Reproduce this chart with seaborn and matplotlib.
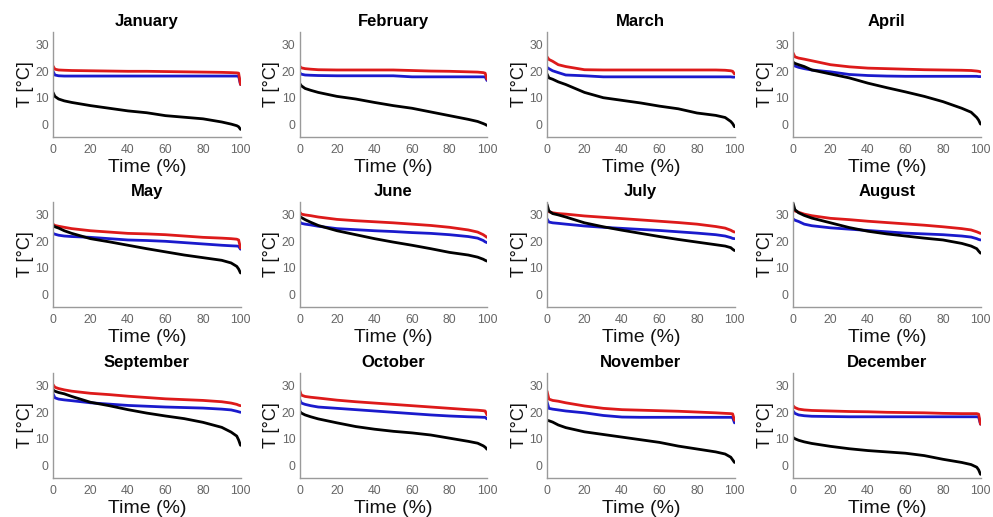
import matplotlib
matplotlib.use("Agg")
import matplotlib.pyplot as plt
import seaborn as sns
import pandas as pd

months = ["January", "February", "March", "April", "May", "June",
          "July", "August", "September", "October", "November", "December"]

time_pct = [0, 1, 3, 6, 10, 20, 30, 40, 50, 60, 70, 80, 90, 95, 98, 99, 100]

outdoor = [
    [12, 10.5, 9.5, 8.8, 8.2, 7, 6, 5, 4.3, 3.2, 2.6, 2, 0.8, 0, -0.6, -1, -2],
    [15.5, 14.5, 13.5, 12.8, 12, 10.5, 9.5, 8.2, 7, 6, 4.6, 3.2, 1.8, 1, 0.2, -0.1, -0.5],
    [19, 17.5, 17, 16, 15, 12, 10, 9, 8, 6.8, 5.8, 4.2, 3.3, 2.5, 1, 0.2, -1],
    [23.5, 23, 22.5, 21.8, 20.5, 19, 17.5, 15.5, 13.8, 12.2, 10.5, 8.5, 6, 4.5, 2.5, 1.5, 0],
    [26, 25.5, 25, 24, 23, 21, 19.8, 18.5, 17.2, 16, 14.8, 13.8, 12.8, 11.8, 10.5, 9.5, 8],
    [29.5, 29, 28.2, 27.2, 26, 24, 22.5, 21, 19.7, 18.5, 17.2, 15.8, 14.8, 14, 13.2, 12.8, 12.5],
    [34, 31.5, 30.5, 30, 29.2, 27, 25.5, 24.2, 23, 21.8, 20.7, 19.7, 18.7, 18.2, 17.6, 17, 16.5],
    [34.5, 32, 30.8, 29.8, 28.8, 27, 25.2, 23.8, 22.8, 22, 21.2, 20.5, 19.2, 18.2, 17.2, 16.3, 15.5],
    [28.5, 28, 27.5, 27, 26, 23.8, 22.5, 21, 19.7, 18.6, 17.6, 16.2, 14.3, 12.5, 11, 9.5, 7.5],
    [20.5, 19.7, 19, 18.3, 17.5, 16, 14.6, 13.6, 12.8, 12.2, 11.4, 10.2, 9, 8.3, 7.3, 6.8, 6],
    [17, 16.8, 16.3, 15.2, 14.2, 12.6, 11.6, 10.6, 9.6, 8.6, 7.2, 6.1, 5, 4.2, 3, 2, 1],
    [10.5, 10, 9.4, 8.8, 8.2, 7.1, 6.2, 5.5, 5, 4.5, 3.6, 2.2, 1, 0.2, -0.8, -1.8, -3.5],
]

indoor_red = [
    [22, 20.8, 20.5, 20.4, 20.3, 20.2, 20.1, 20, 20, 19.9, 19.8, 19.7, 19.6, 19.5, 19.4, 19.3, 15],
    [22, 21.3, 21, 20.8, 20.6, 20.5, 20.5, 20.5, 20.5, 20.3, 20.1, 20, 19.8, 19.7, 19.5, 19.3, 17],
    [25.5, 24.5, 23.8, 22.5, 21.8, 20.6, 20.5, 20.5, 20.5, 20.5, 20.5, 20.5, 20.5, 20.4, 20.2, 20, 19],
    [27, 25.5, 25, 24.6, 24, 22.5, 21.7, 21.2, 21, 20.8, 20.6, 20.5, 20.4, 20.3, 20.1, 20, 19.8],
    [26.5, 26, 25.7, 25.3, 24.8, 24, 23.5, 23, 22.8, 22.5, 22, 21.5, 21.2, 21, 20.8, 20.5, 17.5],
    [31.2, 30.3, 30, 29.7, 29.2, 28.3, 27.8, 27.4, 27, 26.5, 26, 25.3, 24.3, 23.5, 22.5, 22, 21.5],
    [32, 31.2, 30.8, 30.5, 30.3, 29.6, 29.1, 28.6, 28.1, 27.6, 27.1, 26.5, 25.6, 25, 24.2, 23.8, 23.5],
    [32.5, 31.5, 31, 30.3, 29.7, 28.7, 28.2, 27.6, 27.1, 26.6, 26.1, 25.5, 24.8, 24.3, 23.6, 23.3, 23],
    [30.5, 29.5, 29, 28.5, 28, 27.2, 26.7, 26.1, 25.6, 25.1, 24.8, 24.5, 24, 23.5, 23, 22.7, 22.5],
    [28.5, 26.5, 26, 25.7, 25.4, 24.6, 24, 23.5, 23, 22.5, 22, 21.5, 21, 20.8, 20.6, 20.5, 19],
    [28, 25, 24.5, 24.2, 23.6, 22.4, 21.5, 21, 20.8, 20.6, 20.4, 20.1, 19.8, 19.6, 19.5, 19.4, 17],
    [22.5, 21.8, 21.2, 20.9, 20.7, 20.5, 20.3, 20.2, 20, 19.9, 19.8, 19.6, 19.5, 19.5, 19.5, 19.3, 15.5],
]

indoor_blue = [
    [20, 18.6, 18.3, 18.2, 18.2, 18.2, 18.2, 18.2, 18.2, 18.2, 18.2, 18.2, 18.2, 18.2, 18.2, 18.1, 15],
    [19.5, 18.9, 18.6, 18.5, 18.4, 18.3, 18.3, 18.3, 18.3, 17.9, 17.9, 17.9, 17.9, 17.9, 17.9, 17.9, 16.5],
    [21.5, 21, 20.2, 19.5, 18.6, 18.3, 17.9, 17.9, 17.9, 17.9, 17.9, 17.9, 17.9, 17.9, 17.9, 17.8, 17.8],
    [22.5, 22, 21.5, 21, 20.5, 19.8, 18.8, 18.4, 18.2, 18.1, 18.1, 18.1, 18.1, 18.1, 18.1, 18, 18],
    [23, 22.7, 22.3, 22, 21.8, 21.5, 21, 20.5, 20.3, 20, 19.5, 19, 18.5, 18.3, 18.2, 18.1, 17],
    [27.5, 26.8, 26.5, 26.2, 25.7, 24.8, 24.4, 24, 23.7, 23.3, 23, 22.5, 21.8, 21.2, 20.3, 19.8, 19.5],
    [28.5, 27.3, 27, 26.8, 26.5, 25.8, 25.3, 24.9, 24.5, 24.1, 23.6, 23.1, 22.5, 22, 21.4, 21.1, 21],
    [28.5, 28, 27.5, 26.5, 25.9, 25.1, 24.6, 24.1, 23.6, 23.1, 22.8, 22.5, 22, 21.6, 21, 20.7, 20.5],
    [27, 25.5, 25, 24.7, 24.4, 23.6, 23.1, 22.6, 22.3, 22, 21.8, 21.6, 21.2, 20.9, 20.4, 20.2, 20],
    [25, 23.5, 23, 22.5, 22, 21.5, 21, 20.5, 20, 19.5, 19, 18.6, 18.3, 18.2, 18.1, 18.1, 17.5],
    [24, 21.5, 21.2, 20.9, 20.5, 19.8, 18.8, 18.2, 18.1, 18.1, 18.1, 18.1, 18.1, 18.1, 18.1, 18, 16],
    [20.5, 19.6, 19, 18.7, 18.5, 18.4, 18.3, 18.3, 18.3, 18.3, 18.3, 18.3, 18.3, 18.3, 18.3, 18.2, 15.5],
]

x_ticks = [0, 20, 40, 60, 80, 100]
y_ticks = [0, 10, 20, 30]

sns.set_style("white")
plt.rcParams["font.family"] = ["Liberation Sans", "DejaVu Sans"]
plt.rcParams["text.color"] = "black"
plt.rcParams["axes.labelcolor"] = "#111111"

W, H = 993, 517
fig = plt.figure(figsize=(W / 100, H / 100), dpi=100)

lefts = [53, 299.5, 547, 793]
tops = [31.7, 201.7, 372.7]
aw, ah = 187.5, 105.6

grey = "#9a9a9a"
tick_col = "#666666"

for i, m in enumerate(months):
    r, c = divmod(i, 4)
    ax = fig.add_axes([lefts[c] / W, (H - tops[r] - ah) / H, aw / W, ah / H])
    df = pd.DataFrame({"t": time_pct * 3,
                       "T": outdoor[i] + indoor_red[i] + indoor_blue[i],
                       "s": ["out"] * len(time_pct) + ["red"] * len(time_pct) + ["blue"] * len(time_pct)})
    sns.lineplot(data=df, x="t", y="T", hue="s",
                 palette={"out": "black", "red": "#dd1a1a", "blue": "#1a1acc"},
                 hue_order=["blue", "red", "out"],
                 linewidth=2.0, legend=False, ax=ax)
    ax.set_xlim(0, 100)
    ax.set_ylim(-5, 35)
    ax.set_xticks(x_ticks)
    ax.set_yticks(y_ticks)
    for s in ["top", "right"]:
        ax.spines[s].set_visible(False)
    for s in ["left", "bottom"]:
        ax.spines[s].set_color(grey)
        ax.spines[s].set_linewidth(1.0)
    ax.tick_params(axis="both", direction="in", length=2.5, width=0.8,
                   colors=grey, labelcolor=tick_col, labelsize=8.8, pad=3)
    ax.tick_params(axis="x", pad=5)
    ax.set_title(m, fontsize=12, fontweight="bold", pad=4, color="black")
    ax.set_xlabel("Time (%)", fontsize=14, labelpad=2)
    ax.set_ylabel("T [°C]", fontsize=13, labelpad=1)

fig.savefig("out.png", dpi=100)
